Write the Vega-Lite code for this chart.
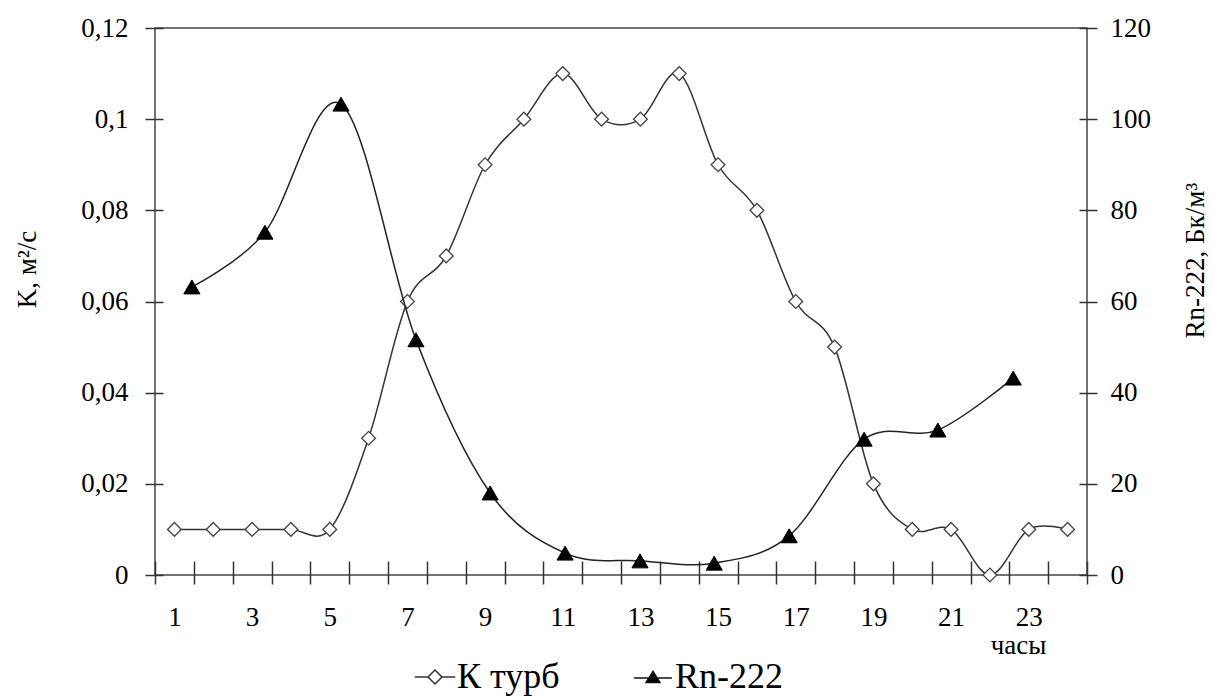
{
  "$schema": "https://vega.github.io/schema/vega-lite/v6.json",
  "width": 932,
  "height": 547,
  "autosize": {"type": "none"},
  "padding": {"left": 155, "top": 28, "right": 126, "bottom": 123},
  "background": "white",
  "config": {
    "font": "Liberation Serif",
    "view": {"stroke": "#444", "strokeWidth": 1.5},
    "axis": {
      "domain": false,
      "grid": false,
      "labelFont": "Liberation Serif",
      "labelFontSize": 27,
      "labelColor": "black",
      "titleFont": "Liberation Serif",
      "titleFontSize": 27,
      "titleFontWeight": "normal",
      "titleColor": "black",
      "tickColor": "#333",
      "tickWidth": 1.5
    },
    "legend": {
      "labelFont": "Liberation Serif",
      "labelFontSize": 36,
      "labelColor": "black",
      "symbolSize": 196,
      "symbolStrokeWidth": 1.5,
      "labelOffset": 4,
      "columnPadding": 71
    }
  },
  "datasets": {
    "kdata": [
      {"h": 1, "K": 0.01, "series": "К турб"},
      {"h": 2, "K": 0.01, "series": "К турб"},
      {"h": 3, "K": 0.01, "series": "К турб"},
      {"h": 4, "K": 0.01, "series": "К турб"},
      {"h": 5, "K": 0.01, "series": "К турб"},
      {"h": 6, "K": 0.03, "series": "К турб"},
      {"h": 7, "K": 0.06, "series": "К турб"},
      {"h": 8, "K": 0.07, "series": "К турб"},
      {"h": 9, "K": 0.09, "series": "К турб"},
      {"h": 10, "K": 0.1, "series": "К турб"},
      {"h": 11, "K": 0.11, "series": "К турб"},
      {"h": 12, "K": 0.1, "series": "К турб"},
      {"h": 13, "K": 0.1, "series": "К турб"},
      {"h": 14, "K": 0.11, "series": "К турб"},
      {"h": 15, "K": 0.09, "series": "К турб"},
      {"h": 16, "K": 0.08, "series": "К турб"},
      {"h": 17, "K": 0.06, "series": "К турб"},
      {"h": 18, "K": 0.05, "series": "К турб"},
      {"h": 19, "K": 0.02, "series": "К турб"},
      {"h": 20, "K": 0.01, "series": "К турб"},
      {"h": 21, "K": 0.01, "series": "К турб"},
      {"h": 22, "K": 0.0, "series": "К турб"},
      {"h": 23, "K": 0.01, "series": "К турб"},
      {"h": 24, "K": 0.01, "series": "К турб"}
    ],
    "rndata": [
      {"h": 1.45, "Rn": 63.2, "series": "Rn-222"},
      {"h": 3.33, "Rn": 75.2, "series": "Rn-222"},
      {"h": 5.29, "Rn": 103.3, "series": "Rn-222"},
      {"h": 7.22, "Rn": 51.6, "series": "Rn-222"},
      {"h": 9.13, "Rn": 18.0, "series": "Rn-222"},
      {"h": 11.06, "Rn": 4.8, "series": "Rn-222"},
      {"h": 12.99, "Rn": 3.1, "series": "Rn-222"},
      {"h": 14.9, "Rn": 2.6, "series": "Rn-222"},
      {"h": 16.83, "Rn": 8.6, "series": "Rn-222"},
      {"h": 18.76, "Rn": 29.8, "series": "Rn-222"},
      {"h": 20.66, "Rn": 31.8, "series": "Rn-222"},
      {"h": 22.6, "Rn": 43.2, "series": "Rn-222"}
    ]
  },
  "encoding": {
    "x": {
      "field": "h",
      "type": "quantitative",
      "scale": {"domain": [0.5, 24.5], "nice": false, "zero": false},
      "axis": {
        "values": [0.5, 1.5, 2.5, 3.5, 4.5, 5.5, 6.5, 7.5, 8.5, 9.5, 10.5, 11.5, 12.5, 13.5, 14.5, 15.5, 16.5, 17.5, 18.5, 19.5, 20.5, 21.5, 22.5, 23.5, 24.5],
        "labelExpr": "((datum.value + 0.5) % 2 == 1 && datum.value < 24) ? format(datum.value + 0.5, 'd') : ''",
        "labelOffset": 19.4,
        "labelFlush": false,
        "labelOverlap": false,
        "labelBound": false,
        "offset": -14,
        "tickSize": 23,
        "labelPadding": 20,
        "title": "часы",
        "titleX": 863,
        "titleY": 84,
        "titleAlign": "center",
        "titleBaseline": "middle",
        "titleAnchor": null
      }
    }
  },
  "layer": [
    {
      "data": {"name": "kdata"},
      "layer": [
        {
          "mark": {"type": "line", "interpolate": "cardinal", "tension": 0, "stroke": "#333", "strokeWidth": 1.5},
          "encoding": {
            "y": {
              "field": "K",
              "type": "quantitative",
              "scale": {"domain": [0, 0.12], "nice": false, "zero": true},
              "axis": {
                "orient": "left",
                "values": [0, 0.02, 0.04, 0.06, 0.08, 0.1, 0.12],
                "format": "~g",
                "labelExpr": "replace(datum.label, '.', ',')",
                "offset": -8,
                "tickSize": 18,
                "labelPadding": 17,
                "title": "K, м²/с",
                "titleAngle": 270,
                "titleX": -136,
                "titleY": 241,
                "titleAlign": "center",
                "titleBaseline": "middle"
              }
            }
          }
        },
        {
          "mark": {"type": "point", "shape": "diamond", "filled": true, "fill": "white", "opacity": 1, "stroke": "#444", "strokeWidth": 1.3, "size": 190},
          "encoding": {
            "y": {"field": "K", "type": "quantitative"}
          }
        },
        {
          "transform": [{"filter": "false"}],
          "mark": {"type": "point", "filled": true, "opacity": 1, "strokeWidth": 1.5, "size": 196},
          "encoding": {
            "y": {"field": "K", "type": "quantitative"},
            "shape": {
              "field": "series",
              "type": "nominal",
              "scale": {"domain": ["К турб", "Rn-222"], "range": ["M-2.9,0L-1,0M1,0L2.9,0M-1,0L0,-1L1,0L0,1Z", "M-2.7,0.15L2.7,0.15M0,-0.8L-1,0.8L1,0.8Z"]},
              "legend": {
                "title": null,
                "orient": "none",
                "legendX": 262,
                "legendY": 631,
                "direction": "horizontal",
                "labelFont": "Liberation Serif",
                "labelFontSize": 36
              }
            },
            "fill": {
              "field": "series",
              "type": "nominal",
              "scale": {"domain": ["К турб", "Rn-222"], "range": ["white", "black"]},
              "legend": {
                "title": null,
                "orient": "none",
                "legendX": 262,
                "legendY": 631,
                "direction": "horizontal",
                "labelFont": "Liberation Serif",
                "labelFontSize": 36
              }
            },
            "stroke": {
              "field": "series",
              "type": "nominal",
              "scale": {"domain": ["К турб", "Rn-222"], "range": ["#333", "#111"]},
              "legend": {
                "title": null,
                "orient": "none",
                "legendX": 262,
                "legendY": 631,
                "direction": "horizontal",
                "labelFont": "Liberation Serif",
                "labelFontSize": 36
              }
            }
          }
        }
      ]
    },
    {
      "data": {"name": "rndata"},
      "layer": [
        {
          "mark": {"type": "line", "interpolate": "cardinal", "tension": 0, "stroke": "#222", "strokeWidth": 1.5},
          "encoding": {
            "y": {
              "field": "Rn",
              "type": "quantitative",
              "scale": {"domain": [0, 120], "nice": false, "zero": true},
              "axis": {
                "orient": "right",
                "values": [0, 20, 40, 60, 80, 100, 120],
                "offset": -8,
                "tickSize": 18,
                "labelPadding": 13,
                "title": "Rn-222, Бк/м³",
                "titleAngle": 270,
                "titleX": 116,
                "titleY": 232,
                "titleAlign": "center",
                "titleBaseline": "middle"
              }
            }
          }
        },
        {
          "mark": {"type": "point", "shape": "triangle-up", "filled": true, "fill": "black", "opacity": 1, "stroke": "black", "strokeWidth": 1, "size": 260},
          "encoding": {
            "y": {"field": "Rn", "type": "quantitative"}
          }
        }
      ]
    }
  ],
  "resolve": {"scale": {"y": "independent"}}
}
